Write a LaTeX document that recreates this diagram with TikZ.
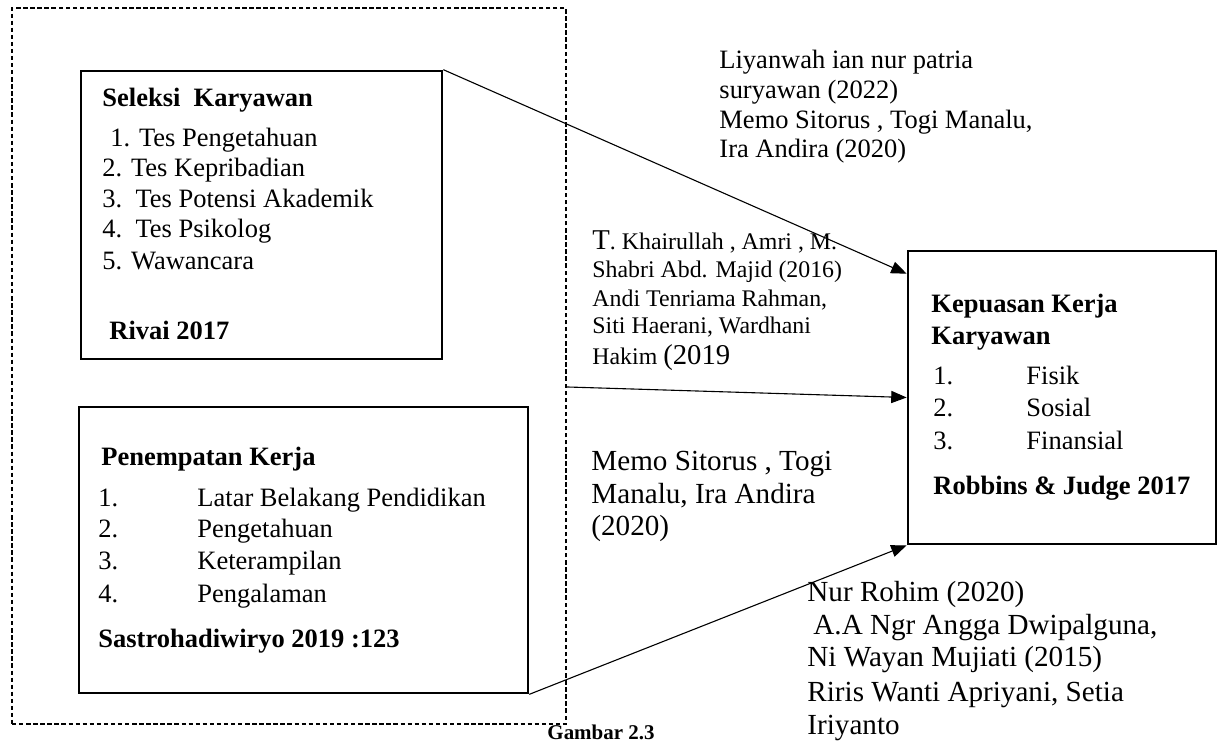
\documentclass[tikz,border=0pt]{standalone}
\usepackage{fontspec}
\setmainfont{Liberation Serif}
\usetikzlibrary{arrows.meta,fit}

\tikzset{
  boxline/.style={draw, line width=1.2pt, inner sep=0pt},
  framebox/.style={draw, dash pattern=on 2pt off 1.2pt, line width=0.7pt, inner sep=0pt},
  conn/.style={line width=0.5pt, -{Triangle[length=7pt,width=5.5pt]}},
  txt/.style={anchor=base west, inner sep=0pt},
}
\newcommand{\boxfont}{\fontsize{12}{14}\selectfont}
\newcommand{\bigref}{\fontsize{13.2}{15.5}\selectfont}
\newcommand{\smallref}{\fontsize{10.8}{13}\selectfont}

\begin{document}
\begin{tikzpicture}[x=0.453pt,y=-0.453pt]
\useasboundingbox (0,0) rectangle (1218,742);

% frame and boxes
\node[framebox, fit={(12,8) (566,724)}] (frame) {};
\node[boxline, fit={(81,71) (442,359)}] (seleksi) {};
\node[boxline, fit={(79,407) (528,693)}] (penempatan) {};
\node[boxline, fit={(908,251) (1216,544)}] (kepuasan) {};

% seleksi karyawan
\node[txt] (sel-title) at (102,107) {\boxfont\bfseries Seleksi\ \ Karyawan};
\foreach \i/\xx/\yy/\t in {1/110/147/{1. Tes Pengetahuan}, 2/102/177/{2. Tes Kepribadian},
    3/102/208/{3.\ \ Tes Potensi Akademik}, 4/102/238/{4.\ \ Tes Psikolog}, 5/102/270/{5. Wawancara}}
  \node[txt] (sel-\i) at (\xx,\yy) {\boxfont\t};
\node[txt] (sel-ref) at (109,340) {\boxfont\bfseries Rivai 2017};

% penempatan kerja
\node[txt] (pen-title) at (101,466) {\boxfont\bfseries Penempatan Kerja};
\foreach \i/\yy/\t in {1/507/{Latar Belakang Pendidikan}, 2/538/{Pengetahuan}, 3/570/{Keterampilan}, 4/603/{Pengalaman}} {
  \node[txt] (pen-n\i) at (98,\yy) {\boxfont\i.};
  \node[txt] (pen-\i) at (197,\yy) {\boxfont\t};
}
\node[txt] (pen-ref) at (98,648) {\boxfont\bfseries Sastrohadiwiryo 2019 :123};

% kepuasan kerja
\node[txt] (kep-title1) at (931,313) {\boxfont\bfseries Kepuasan Kerja};
\node[txt] (kep-title2) at (931,345) {\boxfont\bfseries Karyawan};
\foreach \i/\yy/\t in {1/385/{Fisik}, 2/417/{Sosial}, 3/450/{Finansial}} {
  \node[txt] (kep-n\i) at (933,\yy) {\boxfont\i.};
  \node[txt] (kep-\i) at (1026,\yy) {\boxfont\t};
}
\node[txt] (kep-ref) at (933,495) {\boxfont\bfseries Robbins \& Judge 2017};

% references
\foreach \i/\yy/\t in {1/69/{Liyanwah ian nur patria}, 2/99/{suryawan (2022)},
    3/129/{Memo Sitorus , Togi Manalu,}, 4/158/{Ira Andira (2020)}}
  \node[txt] (refa-\i) at (719,\yy) {\boxfont\t};

\node[txt] (refb-1) at (592,250) {\fontsize{13}{15}\selectfont T\smallref. Khairullah , Amri , M.};
\foreach \i/\yy/\t in {2/278/{Shabri Abd. Majid (2016)}, 3/307/{Andi Tenriama Rahman,}, 4/334/{Siti Haerani, Wardhani}}
  \node[txt] (refb-\i) at (592,\yy) {\smallref\t};
\node[txt] (refb-5) at (592,365) {\smallref Hakim \fontsize{13}{15}\selectfont(2019};

\foreach \i/\yy/\t in {1/471/{Memo Sitorus , Togi}, 2/504/{Manalu, Ira Andira}, 3/536/{(2020)}}
  \node[txt] (refc-\i) at (591,\yy) {\bigref\t};

\foreach \i/\xx/\yy/\t in {1/807/602/{Nur Rohim (2020)}, 2/813/635/{A.A Ngr Angga Dwipalguna,},
    3/807/667/{Ni Wayan Mujiati (2015)}, 4/807/702/{Riris Wanti Apriyani, Setia}, 5/807/735/{Iriyanto}}
  \node[txt] (refd-\i) at (\xx,\yy) {\bigref\t};

\node[txt] (caption) at (547,740) {\fontsize{9.5}{11}\selectfont\bfseries Gambar 2.3};

% arrows
\draw[conn] (seleksi.north east) -- ([yshift=-10.9pt]kepuasan.north west);
\draw[conn] ([yshift=-9.5pt]frame.east) -- (kepuasan.west);
\draw[conn] (penempatan.south east) -- (kepuasan.south west);
\end{tikzpicture}
\end{document}
